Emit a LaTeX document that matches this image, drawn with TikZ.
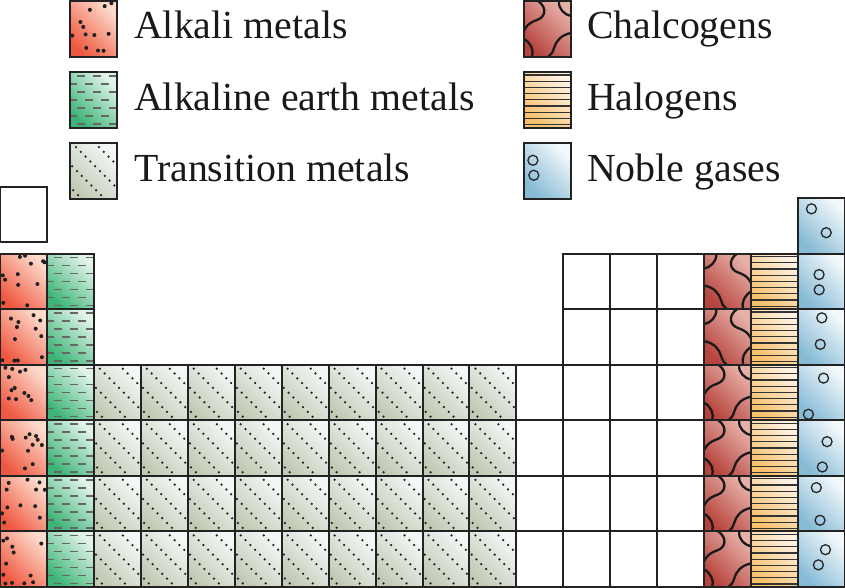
\documentclass[tikz,border=0pt]{standalone}
\usepackage{fontspec}
\setmainfont{Liberation Serif}
\definecolor{alkD}{HTML}{EF5840}\definecolor{alkL}{HTML}{FDDACB}
\definecolor{aeD}{HTML}{3BB475}\definecolor{aeL}{HTML}{E2F4EA}
\definecolor{trD}{HTML}{C2CAB6}\definecolor{trL}{HTML}{F2F8F5}
\definecolor{chD}{HTML}{B6433C}\definecolor{chL}{HTML}{E6B0A8}
\definecolor{haD}{HTML}{F8C06A}\definecolor{haL}{HTML}{FEF2E4}
\definecolor{ngD}{HTML}{86BAD5}\definecolor{ngL}{HTML}{F2F8FB}
\definecolor{edge}{HTML}{222222}
\tikzset{
  shalk/.style={bottom color=alkD,top color=alkL,shading angle=-45},
  shae/.style={bottom color=aeD,top color=aeL,shading angle=-45},
  shtr/.style={bottom color=trD,top color=trL,shading angle=-45},
  shch/.style={bottom color=chD,top color=chL,shading angle=-45},
  shha/.style={bottom color=haD,top color=haL,shading angle=-45},
  shng/.style={bottom color=ngD,top color=ngL,shading angle=-45},
  shwh/.style={bottom color=white,top color=white},
  cellborder/.style={draw=edge,line width=2},
  dotc/.style={fill=black!88},
  dashc/.style={draw=black!60,line width=1.6},
  halc/.style={draw=black!80,line width=1.2},
  chc/.style={draw=black!90,line width=2.3,line cap=round},
  ngc/.style={draw=black!85,line width=1.3},
  lbl/.style={anchor=base west,inner sep=0pt,font=\fontsize{39.8}{44}\selectfont,text=black!90}
}
\newcommand\patwh[2]{}
\newcommand\patalk[2]{\foreach \i in {1,...,12}{\fill[dotc] ({#1+2+rnd*43},{#2+2+rnd*51}) circle[radius=2];}}
\newcommand\patae[2]{\foreach \r in {0,...,6}{\foreach \c in {-1,...,3}{\draw[dashc] ({#1+7-mod(\r,2)*8+\c*16},{#2+4+\r*8}) -- ++(8,0);}}}
\newcommand\pattr[2]{\foreach \o in {-46,-23,0,23}{\foreach \k in {0,...,11}{\fill[dotc] ({#1+6+\o+\k*4.8},{#2+4+\k*4.8}) circle[radius=1.25];}}}
\newcommand\patha[2]{\foreach \k in {0,...,8}{\draw[halc] (#1,{#2+3+\k*6.2}) -- ++(47,0);}}
\newcommand\patng[2]{%
  \draw[ngc] ({#1+8+rnd*30},{#2+8+rnd*14}) circle[radius=5];
  \draw[ngc] ({#1+8+rnd*34},{#2+32+rnd*18}) circle[radius=5];}
\newcommand\patch[2]{%
  \pgfmathsetmacro\flip{rnd>0.5?1:-1}%
  \begin{scope}[shift={(#1+23.5,#2)},xscale=\flip,shift={(-23.5,0)}]
    \draw[chc] (12,0) .. controls (13,8) and (6,14) .. (0,15);
    \draw[chc] (33,0) .. controls (24,6) and (25,16) .. (34,19) .. controls (43,22) and (46,27) .. (47,30);
    \draw[chc] (0,32) .. controls (10,34) and (15,40) .. (17,47) .. controls (18,51) and (20,54) .. (23,56);
    \draw[chc] (47,38) .. controls (40,42) and (37,49) .. (39,56);
  \end{scope}}
% #1 type, #2 x, #3 y top, #4 height
\newcommand\tcell[4]{%
  \begin{scope}
    \clip (#2,#3) rectangle ++(46.944,#4);
    \shade[sh#1] (#2,#3) rectangle ++(46.944,#4);
    \csname pat#1\endcsname{#2}{#3}
  \end{scope}
  \draw[cellborder] (#2,#3) rectangle ++(46.944,#4);}
\begin{document}
\begin{tikzpicture}[x=1pt,y=-1pt]
\useasboundingbox (0,0) rectangle (845,587);
\pgfmathsetseed{4321}
% legend boxes
\tcell{alk}{70}{1}{56}
\tcell{ae}{70}{72}{56}
\tcell{tr}{70}{143}{56}
\tcell{ch}{524}{1}{56}
\tcell{ha}{524}{72}{56}
\tcell{ng}{524}{143}{56}
\node[lbl] (lalk) at (134,38) {Alkali metals};
\node[lbl] (lae) at (134,110) {Alkaline earth metals};
\node[lbl] (ltr) at (134,181) {Transition metals};
\node[lbl] (lch) at (587,38) {Chalcogens};
\node[lbl] (lha) at (587,110) {Halogens};
\node[lbl] (lng) at (587,181) {Noble gases};
% period 1
\tcell{wh}{0}{187}{55}
\tcell{ng}{798.06}{198}{55.5}
% periods 2-7
\foreach \r in {0,...,5}{
  \pgfmathsetmacro\yy{253.5+\r*55.58}
  \tcell{alk}{0}{\yy}{55.58}
  \tcell{ae}{46.944}{\yy}{55.58}
  \foreach \c in {12,13,14}{\tcell{wh}{\c*46.944}{\yy}{55.58}}
  \tcell{ch}{15*46.944}{\yy}{55.58}
  \tcell{ha}{16*46.944}{\yy}{55.58}
  \tcell{ng}{17*46.944}{\yy}{55.58}
}
\foreach \r in {2,...,5}{
  \pgfmathsetmacro\yy{253.5+\r*55.58}
  \foreach \c in {2,...,10}{\tcell{tr}{\c*46.944}{\yy}{55.58}}
  \tcell{wh}{11*46.944}{\yy}{55.58}
}
\end{tikzpicture}
\end{document}
